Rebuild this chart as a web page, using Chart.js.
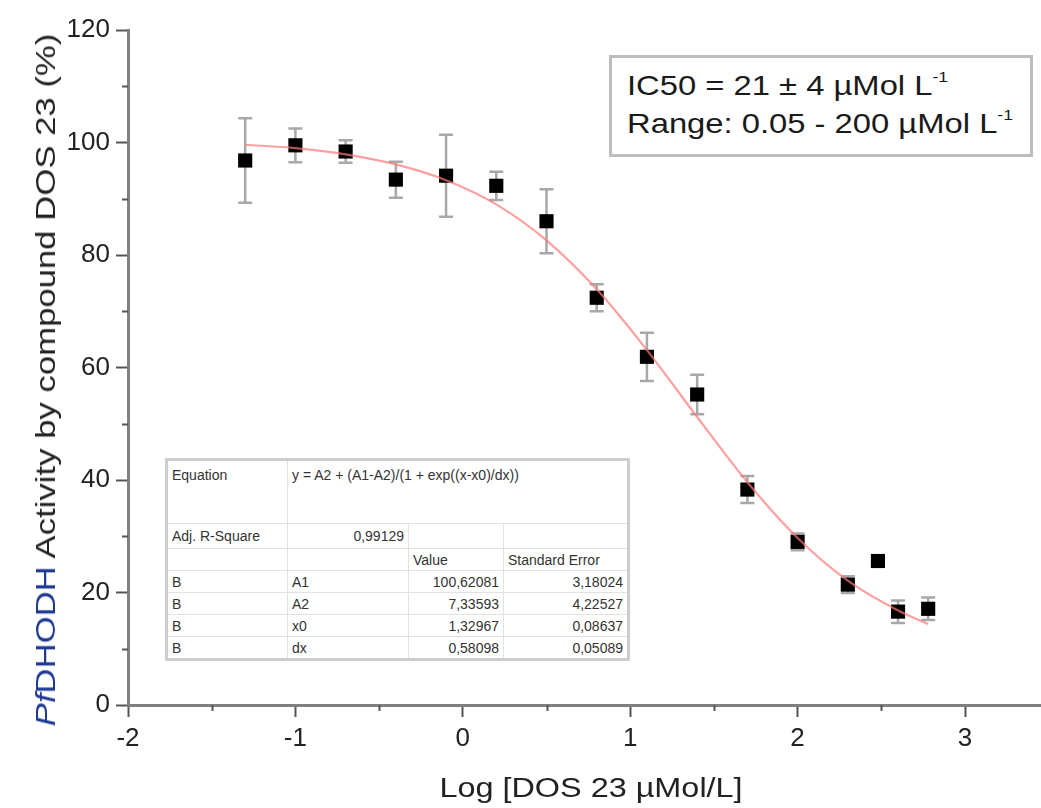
<!DOCTYPE html>
<html>
<head>
<meta charset="utf-8">
<script src="https://cdn.jsdelivr.net/npm/chart.js@4.4.1/dist/chart.umd.min.js"></script>
<style>
  html, body { margin: 0; padding: 0; background: #fff; }
  #wrap { position: relative; width: 1041px; height: 808px; overflow: hidden; font-family: "Liberation Sans", Arial, sans-serif; }
  canvas { position: absolute; left: 0; top: 0; }
  .ytitle { position: absolute; left: 46px; top: 380px; white-space: nowrap; font-size: 28px; color: #222;
            transform: translate(-50%, -50%) rotate(-90deg) scaleX(1.24); }
  .ytitle .pf { color: #1f3a93; }
  .xtitle { position: absolute; left: 591px; top: 788px; white-space: nowrap; font-size: 27px; color: #222;
            transform: translate(-50%, -50%) scaleX(1.2); }
  #box { position: absolute; left: 609px; top: 55px; width: 418px; height: 96px; border: 3px solid #bdbdbd; background: #fff; }
  #box .ln { position: absolute; left: 15px; white-space: nowrap; font-size: 28px; color: #1a1a1a; transform-origin: left center; transform: scaleX(1.17); }
  #box sup { font-size: 15px; vertical-align: 0; position: relative; top: -13px; }
  #tbl { position: absolute; left: 165px; top: 458px; border: 3px solid #cdcdcd; background: #fff; border-collapse: collapse; font-size: 14px; color: #333; }
  #tbl td { border: 1px solid #e2e2e2; padding: 0 4px; white-space: nowrap; height: 21px; }
  #tbl td.r { text-align: right; }
  #tbl tr.eq td { height: 56px; vertical-align: top; padding-top: 6px; }
</style>
</head>
<body>
<div id="wrap">
  <canvas id="c" width="1041" height="808"></canvas>
  <div class="ytitle"><span class="pf"><i>Pf</i>DHODH</span> Activity by compound DOS 23 (%)</div>
  <div class="xtitle">Log [DOS 23 µMol/L]</div>
  <div id="box">
    <div class="ln" style="top:12px;">IC50 = 21 ± 4 µMol L<sup>-1</sup></div>
    <div class="ln" style="top:50px;">Range: 0.05 - 200 µMol L<sup>-1</sup></div>
  </div>
  <table id="tbl">
    <colgroup><col style="width:121px"><col style="width:121px"><col style="width:95px"><col style="width:125px"></colgroup>
    <tr class="eq"><td>Equation</td><td colspan="3">y = A2 + (A1-A2)/(1 + exp((x-x0)/dx))</td></tr>
    <tr><td style="height:24px">Adj. R-Square</td><td class="r">0,99129</td><td></td><td></td></tr>
    <tr><td></td><td></td><td>Value</td><td>Standard Error</td></tr>
    <tr><td>B</td><td>A1</td><td class="r">100,62081</td><td class="r">3,18024</td></tr>
    <tr><td>B</td><td>A2</td><td class="r">7,33593</td><td class="r">4,22527</td></tr>
    <tr><td>B</td><td>x0</td><td class="r">1,32967</td><td class="r">0,08637</td></tr>
    <tr><td>B</td><td>dx</td><td class="r">0,58098</td><td class="r">0,05089</td></tr>
  </table>
</div>
<script>
// ---- data ----
const logConc  = [-1.30, -1.00, -0.70, -0.40, -0.10, 0.20, 0.50, 0.80, 1.10, 1.40, 1.70, 2.00, 2.30, 2.48, 2.60, 2.78];
const activity = [96.8, 99.5, 98.4, 93.4, 94.1, 92.3, 86.0, 72.4, 61.9, 55.2, 38.3, 29.0, 21.4, 25.6, 16.6, 17.1];
const errors   = [7.5, 3.0, 2.0, 3.2, 7.3, 2.5, 5.7, 2.4, 4.3, 3.5, 2.4, 1.5, 1.5, 0.5, 2.0, 2.0];

const fitX = [-1.3, -1.0, -0.7, -0.4, -0.1, 0.2, 0.5, 0.8, 1.1, 1.4, 1.7, 2.0, 2.3, 2.6, 2.78];
const fitY = [99.6, 99.0, 97.9, 96.1, 93.3, 89.0, 82.6, 73.9, 63.1, 51.2, 39.6, 29.7, 22.1, 16.8, 14.4];

const xTicks = [-2, -1, 0, 1, 2, 3];
const xMinorTicks = [-1.5, -0.5, 0.5, 1.5, 2.5];
const yTicks = [0, 20, 40, 60, 80, 100, 120];
const yMinorTicks = [10, 30, 50, 70, 90, 110];

const errorBars = {
  id: 'errorBars',
  beforeDatasetsDraw(chart) {
    const { ctx, scales: { x, y } } = chart;
    ctx.save();
    ctx.strokeStyle = '#a8a8a8';
    ctx.lineWidth = 2.5;
    logConc.forEach((v, i) => {
      const px = x.getPixelForValue(v);
      const top = y.getPixelForValue(activity[i] + errors[i]);
      const bot = y.getPixelForValue(activity[i] - errors[i]);
      ctx.beginPath();
      ctx.moveTo(px, top); ctx.lineTo(px, bot);
      ctx.moveTo(px - 7, top); ctx.lineTo(px + 7, top);
      ctx.moveTo(px - 7, bot); ctx.lineTo(px + 7, bot);
      ctx.stroke();
    });
    ctx.restore();
  }
};

const minorTicks = {
  id: 'minorTicks',
  afterDraw(chart) {
    const { ctx, scales: { x, y }, chartArea } = chart;
    ctx.save();
    ctx.strokeStyle = '#555';
    ctx.lineWidth = 2;
    ctx.beginPath();
    xMinorTicks.forEach(v => {
      const px = Math.round(x.getPixelForValue(v)) + 0.5;
      ctx.moveTo(px, chartArea.bottom); ctx.lineTo(px, chartArea.bottom + 6);
    });
    yMinorTicks.forEach(v => {
      const py = Math.round(y.getPixelForValue(v)) + 0.5;
      ctx.moveTo(chartArea.left, py); ctx.lineTo(chartArea.left - 6, py);
    });
    ctx.stroke();
    ctx.restore();
  }
};

const tickFont = { family: '"Liberation Sans", Arial, sans-serif', size: 26 };

new Chart(document.getElementById('c'), {
  type: 'scatter',
  data: {
    datasets: [
      {
        label: 'fit',
        data: fitX.map((v, i) => ({ x: v, y: fitY[i] })),
        showLine: true,
        borderColor: 'rgba(255, 120, 120, 0.7)',
        borderWidth: 2.2,
        pointRadius: 0,
        cubicInterpolationMode: 'monotone',
        order: 0
      },
      {
        label: 'data',
        data: logConc.map((v, i) => ({ x: v, y: activity[i] })),
        pointStyle: 'rect',
        pointRadius: 10,
        backgroundColor: '#000',
        borderColor: '#000',
        borderWidth: 0,
        order: 1
      }
    ]
  },
  options: {
    responsive: false,
    animation: false,
    devicePixelRatio: 1,
    layout: { autoPadding: false, padding: { top: 30, right: 1, left: 0, bottom: 0 } },
    plugins: { legend: { display: false }, tooltip: { enabled: false } },
    scales: {
      x: {
        type: 'linear',
        min: -2, max: 3.448,
        afterFit: s => { s.height = 103; s.paddingLeft = 0; s.paddingRight = 0; },
        afterBuildTicks: s => { s.ticks = xTicks.map(v => ({ value: v })); },
        border: { display: true, color: '#808080', width: 3 },
        grid: { display: true, drawOnChartArea: false, drawTicks: true, tickLength: 12, tickColor: '#555', tickWidth: 2 },
        ticks: { font: tickFont, color: '#222', padding: 6, maxRotation: 0 }
      },
      y: {
        type: 'linear',
        min: 0, max: 120,
        afterFit: s => { s.width = 128; s.paddingTop = 0; s.paddingBottom = 0; },
        afterBuildTicks: s => { s.ticks = yTicks.map(v => ({ value: v })); },
        border: { display: true, color: '#808080', width: 3 },
        grid: { display: true, drawOnChartArea: false, drawTicks: true, tickLength: 12, tickColor: '#555', tickWidth: 2 },
        ticks: { font: tickFont, color: '#222', padding: 6 }
      }
    }
  },
  plugins: [errorBars, minorTicks]
});
</script>
</body>
</html>
